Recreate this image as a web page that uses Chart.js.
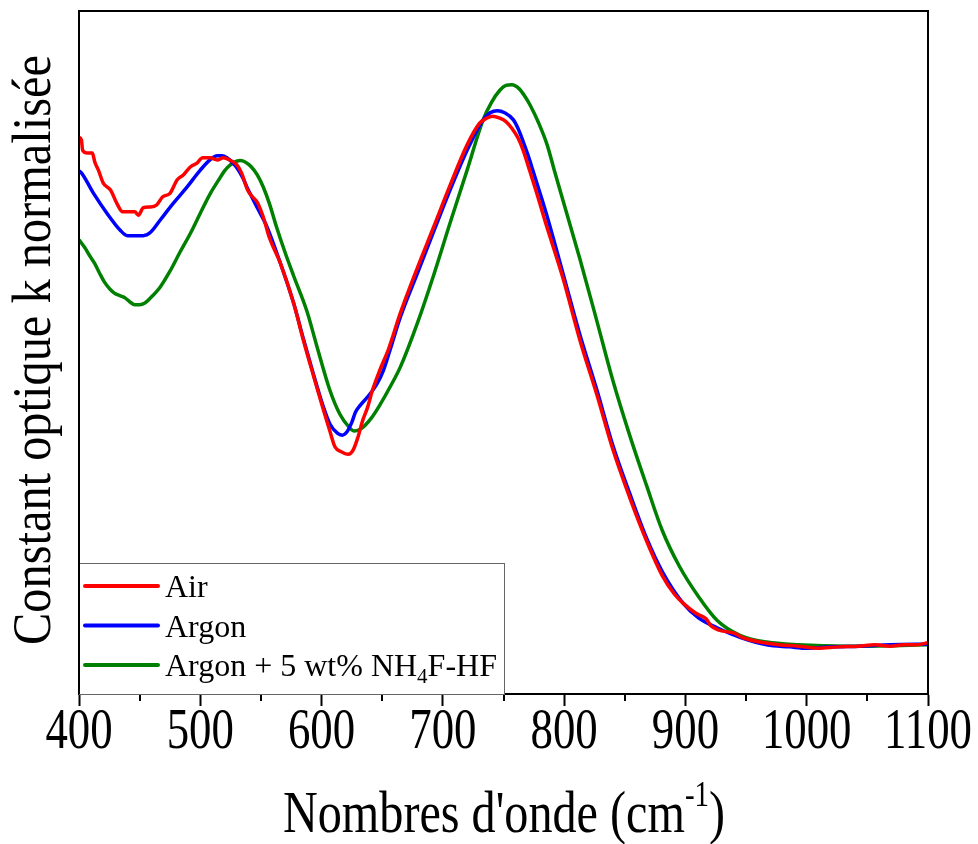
<!DOCTYPE html>
<html>
<head>
<meta charset="utf-8">
<title>Constant optique k normalisée</title>
<script src="https://cdn.jsdelivr.net/npm/chart.js@4.4.1/dist/chart.umd.min.js"></script>
<style>
  html, body { margin: 0; padding: 0; background: #fff; }
  #wrap { width: 978px; height: 844px; }
</style>
</head>
<body>
<div id="wrap"><canvas id="kChart" width="978" height="844"></canvas></div>
<script>
// Nombres d'onde (cm-1) et constante k normalisée
const airX = [400, 402, 403, 407, 411, 413, 416, 420, 426, 431, 436, 442, 446, 449, 453, 459, 464, 469, 475, 481,
  486, 492, 497, 502, 508, 514, 519, 524, 530, 534, 539, 543, 547, 552, 557, 566, 577, 585, 593, 601,
  607, 611, 617, 622, 626, 630, 634, 638, 642, 648, 655, 665, 679, 692, 706, 720,
  730, 736, 741, 747, 752, 757, 762, 766, 772, 778, 784,
  799, 813, 827, 840, 854, 868, 881, 891, 898, 908, 911, 917, 921, 927, 940, 948, 965, 977, 993, 1009,
  1026, 1043, 1056, 1069, 1080, 1090, 1100];
const airK = [0.815, 0.811, 0.796, 0.792, 0.792, 0.779, 0.767, 0.748, 0.738, 0.719, 0.706, 0.706, 0.706, 0.701, 0.712, 0.713, 0.716, 0.728, 0.733, 0.753,
  0.760, 0.772, 0.777, 0.785, 0.785, 0.782, 0.785, 0.782, 0.775, 0.763, 0.738, 0.728, 0.720, 0.698, 0.668, 0.631, 0.572, 0.518, 0.468, 0.419,
  0.384, 0.362, 0.354, 0.351, 0.357, 0.376, 0.401, 0.420, 0.445, 0.474, 0.504, 0.558, 0.624, 0.682, 0.745, 0.804,
  0.835, 0.843, 0.846, 0.843, 0.838, 0.828, 0.814, 0.797, 0.764, 0.730, 0.694,
  0.609, 0.518, 0.438, 0.359, 0.288, 0.224, 0.173, 0.146, 0.133, 0.119, 0.116, 0.110, 0.100, 0.094, 0.089, 0.082, 0.075, 0.072, 0.070, 0.067,
  0.069, 0.070, 0.072, 0.070, 0.072, 0.072, 0.075];

const argonX = [400, 402, 412, 423, 434, 440, 453, 459, 467, 478, 489, 500, 508, 514, 518, 522, 526, 530, 535, 539,
  547, 555, 566, 577, 585, 593, 601, 607, 613, 617, 621, 625, 628, 632, 638, 646, 651, 656, 665, 679,
  692, 706, 720, 733, 739, 745, 751, 758, 762, 766, 770, 774, 780, 786, 799, 813, 827, 840, 854, 868,
  881, 898, 911, 926, 945, 967, 986, 1000, 1021, 1044, 1069, 1100];
const argonK = [0.766, 0.763, 0.733, 0.704, 0.679, 0.671, 0.671, 0.676, 0.694, 0.719, 0.742, 0.767, 0.782, 0.788, 0.788, 0.785, 0.779, 0.771, 0.756, 0.740,
  0.712, 0.684, 0.631, 0.572, 0.520, 0.470, 0.423, 0.395, 0.382, 0.379, 0.384, 0.398, 0.413, 0.423, 0.435, 0.455, 0.474, 0.501, 0.552, 0.616,
  0.675, 0.738, 0.796, 0.840, 0.851, 0.854, 0.851, 0.841, 0.828, 0.810, 0.790, 0.768, 0.734, 0.699, 0.616, 0.526, 0.445, 0.365, 0.294, 0.228,
  0.179, 0.133, 0.111, 0.097, 0.083, 0.072, 0.069, 0.067, 0.069, 0.070, 0.072, 0.073];

const fluoX = [400, 405, 409, 413, 417, 421, 426, 430, 434, 438, 442, 446, 450, 454, 459, 467, 475, 483, 492, 500,
  508, 516, 520, 525, 530, 533, 537, 542, 547, 552, 557, 563, 570, 577, 588, 596, 607, 615, 623, 627,
  633, 641, 648, 656, 665, 679, 692, 706, 720, 733, 740, 747, 752, 757, 763, 768, 772, 779, 786, 792,
  799, 813, 827, 840, 854, 868, 881, 895, 911, 926, 945, 967, 993, 1035, 1100];
const fluoK = [0.665, 0.653, 0.641, 0.630, 0.616, 0.603, 0.592, 0.586, 0.583, 0.580, 0.574, 0.570, 0.570, 0.572, 0.580, 0.596, 0.619, 0.646, 0.675, 0.704,
  0.732, 0.755, 0.766, 0.775, 0.780, 0.781, 0.779, 0.772, 0.760, 0.742, 0.718, 0.683, 0.646, 0.612, 0.560, 0.510, 0.444, 0.410, 0.390, 0.385,
  0.389, 0.404, 0.423, 0.448, 0.479, 0.543, 0.611, 0.690, 0.767, 0.840, 0.866, 0.884, 0.891, 0.892, 0.886, 0.874, 0.862, 0.836, 0.804, 0.766,
  0.723, 0.637, 0.546, 0.460, 0.379, 0.305, 0.239, 0.187, 0.142, 0.108, 0.086, 0.076, 0.072, 0.070, 0.072];

// Etiquettes et graduations
const seriesLabels = ["Air", "Argon", "Argon + 5 wt% NH_4F-HF"];
const seriesColors = ["#ff0000", "#0000ff", "#008000"];
const majorTicks = [400, 500, 600, 700, 800, 900, 1000, 1100];
const minorTicks = [450, 550, 650, 750, 850, 950, 1050];
const xTitle = ["Nombres d'onde (cm", "-1", ")"];
const yTitle = "Constant optique k normalisée";

const SERIF = "'Liberation Serif', 'Times New Roman', serif";

function toPoints(xs, ys) {
  return xs.map((x, i) => ({ x: x, y: ys[i] }));
}

// Dessine un texte en plusieurs morceaux (exposant / indice), comprimé horizontalement
function drawParts(ctx, parts, sx) {
  let total = 0;
  parts.forEach(p => {
    ctx.font = p.size + "px " + SERIF;
    p.w = ctx.measureText(p.text).width;
    total += p.w;
  });
  if (typeof sx === "object") sx = sx.target / total;
  ctx.save();
  ctx.scale(sx, 1);
  let x = -total / 2;
  ctx.textAlign = "left";
  ctx.textBaseline = "alphabetic";
  ctx.fillStyle = "#000";
  parts.forEach(p => {
    ctx.font = p.size + "px " + SERIF;
    ctx.fillText(p.text, x, p.dy || 0);
    x += p.w;
  });
  ctx.restore();
}

const decorPlugin = {
  id: "decor",
  afterDraw(chart) {
    const ctx = chart.ctx;
    const area = chart.chartArea;
    const xs = chart.scales.x;

    // cadre
    ctx.save();
    ctx.strokeStyle = "#000";
    ctx.lineWidth = 2;
    ctx.strokeRect(area.left, area.top, area.right - area.left, area.bottom - area.top);

    // graduations mineures
    minorTicks.forEach(v => {
      const px = Math.round(xs.getPixelForValue(v));
      ctx.beginPath();
      ctx.moveTo(px, area.bottom);
      ctx.lineTo(px, area.bottom + 7);
      ctx.stroke();
    });

    // libellés des graduations
    majorTicks.forEach(v => {
      ctx.save();
      ctx.translate(xs.getPixelForValue(v), 748);
      drawParts(ctx, [{ text: String(v), size: 56 }], 0.8);
      ctx.restore();
    });

    // titre axe x
    ctx.save();
    ctx.translate(504, 832);
    drawParts(ctx, [
      { text: xTitle[0], size: 60 },
      { text: xTitle[1], size: 36, dy: -26 },
      { text: xTitle[2], size: 60 }
    ], { target: 442 });
    ctx.restore();

    // titre axe y
    ctx.save();
    ctx.translate(50, 350);
    ctx.rotate(-Math.PI / 2);
    drawParts(ctx, [{ text: yTitle, size: 54 }], { target: 590 });
    ctx.restore();

    // légende
    const lx = 79, ly = 563, lw = 425, lh = area.bottom - 563;
    ctx.fillStyle = "#fff";
    ctx.fillRect(lx, ly, lw, lh);
    ctx.strokeStyle = "#666";
    ctx.lineWidth = 1;
    ctx.strokeRect(lx + 0.5, ly + 0.5, lw, lh);
    ctx.lineWidth = 2;
    ctx.strokeStyle = "#000";
    ctx.beginPath();
    ctx.moveTo(area.left, ly);
    ctx.lineTo(area.left, area.bottom);
    ctx.stroke();

    chart.data.datasets.forEach((ds, i) => {
      const y = 586 + i * 39.5;
      ctx.strokeStyle = ds.borderColor;
      ctx.lineWidth = 4;
      ctx.lineCap = "round";
      ctx.beginPath();
      ctx.moveTo(85, y);
      ctx.lineTo(158, y);
      ctx.stroke();

      const bits = ds.label.split(/_(\d)/);
      let x = 165;
      ctx.fillStyle = "#000";
      ctx.textAlign = "left";
      ctx.textBaseline = "alphabetic";
      bits.forEach((t, k) => {
        const sub = k % 2 === 1;
        ctx.font = (sub ? 21 : 32) + "px " + SERIF;
        ctx.fillText(t, x, y + 11 + (sub ? 7 : 0));
        x += ctx.measureText(t).width;
      });
    });
    ctx.restore();
  }
};

const ctx = document.getElementById("kChart").getContext("2d");
new Chart(ctx, {
  type: "line",
  data: {
    datasets: [
      { label: seriesLabels[0], data: toPoints(airX, airK), borderColor: seriesColors[0] },
      { label: seriesLabels[1], data: toPoints(argonX, argonK), borderColor: seriesColors[1] },
      { label: seriesLabels[2], data: toPoints(fluoX, fluoK), borderColor: seriesColors[2] }
    ].map(d => Object.assign(d, {
      backgroundColor: d.borderColor,
      borderWidth: 3.5,
      pointRadius: 0,
      fill: false,
      cubicInterpolationMode: "monotone",
      borderJoinStyle: "round"
    }))
  },
  options: {
    responsive: false,
    animation: false,
    devicePixelRatio: 1,
    layout: { padding: { left: 79, right: 50, top: 11, bottom: 0 } },
    plugins: { legend: { display: false }, tooltip: { enabled: false } },
    scales: {
      x: {
        type: "linear",
        min: 400,
        max: 1100,
        afterBuildTicks: s => { s.ticks = majorTicks.map(v => ({ value: v })); },
        afterFit: s => { s.height = 150; },
        ticks: { display: false },
        grid: { drawOnChartArea: false, drawTicks: true, tickLength: 12, tickWidth: 2, tickColor: "#000" },
        border: { color: "#000", width: 2 }
      },
      y: { display: false, min: 0, max: 1 }
    }
  },
  plugins: [decorPlugin]
});
</script>
</body>
</html>
